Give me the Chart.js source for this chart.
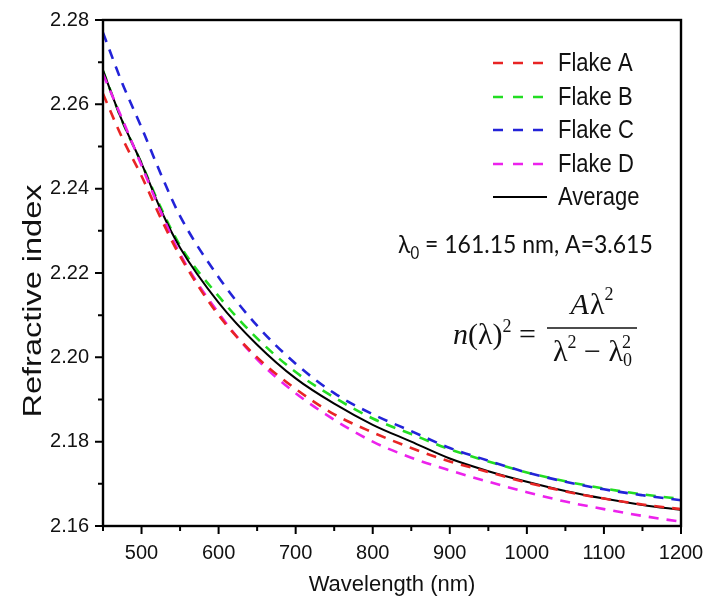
<!DOCTYPE html>
<html>
<head>
<meta charset="utf-8">
<script src="https://cdn.jsdelivr.net/npm/chart.js@4/dist/chart.umd.min.js"></script>
<style>
  html, body { margin: 0; padding: 0; background: #ffffff; }
  #wrap { width: 712px; height: 599px; }
</style>
</head>
<body>
<div id="wrap"><canvas id="c" width="712" height="599"></canvas></div>
<script>
// ---------------- data ----------------
const wavelengths = [450, 475, 500, 525, 550, 600, 650, 700, 750, 800, 850, 900, 950, 1000, 1050, 1100, 1150, 1200];
const flakeA  = [2.2625, 2.2520, 2.2430, 2.2330, 2.2240, 2.2100, 2.2000, 2.1925, 2.1865, 2.1822, 2.1785, 2.1753, 2.1728, 2.1703, 2.1682, 2.1665, 2.1651, 2.1640];
const flakeB  = [2.2680, 2.2560, 2.2460, 2.2355, 2.2265, 2.2145, 2.2045, 2.1965, 2.1905, 2.1855, 2.1818, 2.1782, 2.1753, 2.1727, 2.1706, 2.1689, 2.1675, 2.1664];
const flakeC  = [2.2770, 2.2650, 2.2545, 2.2435, 2.2335, 2.2190, 2.2075, 2.1985, 2.1915, 2.1865, 2.1825, 2.1785, 2.1755, 2.1727, 2.1705, 2.1687, 2.1673, 2.1661];
const flakeD  = [2.2672, 2.2565, 2.2455, 2.2345, 2.2245, 2.2105, 2.1995, 2.1915, 2.1852, 2.1800, 2.1762, 2.1732, 2.1705, 2.1680, 2.1658, 2.1640, 2.1624, 2.1610];
const average = [2.2680, 2.2560, 2.2460, 2.2350, 2.2260, 2.2130, 2.2030, 2.1950, 2.1890, 2.1840, 2.1800, 2.1760, 2.1730, 2.1705, 2.1683, 2.1665, 2.1650, 2.1638];
const seriesNames = ['Flake A', 'Flake B', 'Flake C', 'Flake D', 'Average'];
const xTicks = [500, 600, 700, 800, 900, 1000, 1100, 1200];
const xMinorTicks = [450, 550, 650, 750, 850, 950, 1050, 1150];
const yTicks = [2.16, 2.18, 2.20, 2.22, 2.24, 2.26, 2.28];
const yMinorTicks = [2.17, 2.19, 2.21, 2.23, 2.25, 2.27];
const xTitle = 'Wavelength (nm)';
const yTitle = 'Refractive index';
const paramText = ' = 161.15 nm, A=3.615';

// ---------------- styles ----------------
const colors = ['#e82424', '#22dd22', '#2323d8', '#ec22ec', '#000000'];
const drawOrder = [0, 4, 3, 1, 2];
const seriesValues = [flakeA, flakeB, flakeC, flakeD, average];

const datasets = seriesValues.map((vals, i) => ({
  label: seriesNames[i],
  data: wavelengths.map((w, j) => ({ x: w, y: vals[j] })),
  borderColor: colors[i],
  backgroundColor: colors[i],
  borderWidth: i === 4 ? 2 : 2.6,
  borderDash: i === 4 ? [] : [10, 8],
  pointRadius: 0,
  fill: false,
  cubicInterpolationMode: 'monotone',
  order: drawOrder[i]
}));

const SANS = '"Liberation Sans", Arial, sans-serif';
const SERIF = '"Liberation Serif", "DejaVu Serif", serif';

const noPad = s => { s.paddingTop = 0; s.paddingBottom = 0; s.paddingLeft = 0; s.paddingRight = 0; };

const framePlugin = {
  id: 'frame',
  afterDraw(chart) {
    const { ctx, chartArea: a, scales } = chart;
    const xs = scales.x, ys = scales.y;
    ctx.save();
    ctx.strokeStyle = '#000';
    ctx.lineWidth = 2.4;
    ctx.strokeRect(a.left, a.top, a.right - a.left, a.bottom - a.top);
    ctx.lineWidth = 2;
    ctx.beginPath();
    yTicks.forEach(v => { const y = ys.getPixelForValue(v); ctx.moveTo(a.left - 8, y); ctx.lineTo(a.left, y); });
    yMinorTicks.forEach(v => { const y = ys.getPixelForValue(v); ctx.moveTo(a.left - 5, y); ctx.lineTo(a.left, y); });
    xTicks.forEach(v => { const x = xs.getPixelForValue(v); ctx.moveTo(x, a.bottom); ctx.lineTo(x, a.bottom + 8); });
    xMinorTicks.forEach(v => { const x = xs.getPixelForValue(v); ctx.moveTo(x, a.bottom); ctx.lineTo(x, a.bottom + 5); });
    ctx.stroke();

    // y-axis title (stretched along its length like the reference)
    ctx.save();
    ctx.translate(34, 301);
    ctx.rotate(-Math.PI / 2);
    ctx.scale(1.25, 1);
    ctx.fillStyle = '#111';
    ctx.font = '26px ' + SANS;
    ctx.textAlign = 'center';
    ctx.textBaseline = 'middle';
    ctx.fillText(yTitle, 0, 0);
    ctx.restore();

    // legend
    const rowY = [63, 97, 130, 164, 197];
    chart.data.datasets.forEach((ds, i) => {
      const y = rowY[i];
      ctx.beginPath();
      ctx.strokeStyle = ds.borderColor;
      ctx.lineWidth = i === 4 ? 2 : 2.6;
      ctx.setLineDash(ds.borderDash.length ? [10, 10] : []);
      ctx.moveTo(493, y);
      ctx.lineTo(547, y);
      ctx.stroke();
      ctx.setLineDash([]);
      ctx.save();
      ctx.translate(558, y + 1);
      ctx.scale(1, 1.15);
      ctx.fillStyle = '#111';
      ctx.font = '22px ' + SANS;
      ctx.textAlign = 'left';
      ctx.textBaseline = 'middle';
      ctx.fillText(ds.label, 0, 0);
      ctx.restore();
    });

    // parameters line: λ0 = 161.15 nm, A=3.615
    ctx.fillStyle = '#111';
    ctx.textBaseline = 'alphabetic';
    ctx.textAlign = 'left';
    ctx.save();
    ctx.translate(398, 253);
    ctx.scale(1, 1.1);
    const pf = '23px Lato, "Noto Sans", sans-serif';
    const sf = '15px Lato, "Noto Sans", sans-serif';
    let x = 0;
    ctx.font = pf; ctx.fillText('λ', x, 0); x += ctx.measureText('λ').width;
    ctx.font = sf; ctx.fillText('0', x, 5); x += ctx.measureText('0').width;
    ctx.font = pf; ctx.fillText(paramText, x, 0);
    ctx.restore();

    // formula  n(λ)^2 = Aλ^2 / (λ^2 − λ0^2)
    const it = 'italic 30px ' + SERIF, up = '30px ' + SERIF, sup = '18px ' + SERIF;
    const drawRuns = (runs, startX, base) => {
      let cx = startX;
      runs.forEach(r => { ctx.font = r.f; ctx.fillText(r.t, cx, base + (r.dy || 0)); cx += ctx.measureText(r.t).width + (r.sp || 0); });
      return cx;
    };
    const widthRuns = runs => runs.reduce((s, r) => { ctx.font = r.f; return s + ctx.measureText(r.t).width + (r.sp || 0); }, 0);
    drawRuns([
      { t: 'n', f: it }, { t: '(', f: up }, { t: 'λ', f: up }, { t: ')', f: up },
      { t: '2', f: sup, dy: -12 }, { t: ' = ', f: up }
    ], 453, 344);
    ctx.beginPath();
    ctx.lineWidth = 1.6;
    ctx.strokeStyle = '#111';
    ctx.moveTo(547, 328); ctx.lineTo(637, 328);
    ctx.stroke();
    const num = [{ t: 'A', f: it, sp: 1 }, { t: 'λ', f: up }, { t: '2', f: sup, dy: -14 }];
    drawRuns(num, 592 - widthRuns(num) / 2, 314);
    const den = [{ t: 'λ', f: up }, { t: '2', f: sup, dy: -13 }, { t: ' − ', f: up }, { t: 'λ', f: up },
                 { t: '0', f: sup, dy: 5, sp: -10 }, { t: '2', f: sup, dy: -13 }];
    drawRuns(den, 592 - widthRuns(den) / 2, 361);
    ctx.restore();
  }
};

new Chart(document.getElementById('c'), {
  type: 'line',
  data: { datasets },
  plugins: [framePlugin],
  options: {
    responsive: false,
    devicePixelRatio: 1,
    animation: false,
    layout: { padding: { left: 0, right: 31, top: 20, bottom: 0 } },
    plugins: { legend: { display: false }, tooltip: { enabled: false } },
    scales: {
      x: {
        type: 'linear',
        min: 450, max: 1200,
        afterBuildTicks: s => { s.ticks = xTicks.map(v => ({ value: v })); },
        afterFit: s => { s.height = 73; noPad(s); },
        grid: { display: false, drawTicks: false },
        border: { display: false },
        ticks: { color: '#111', font: { family: SANS, size: 20 }, padding: 15, maxRotation: 0, autoSkip: false,
                 callback: v => String(v) },
        title: { display: true, text: xTitle, color: '#111', font: { family: SANS, size: 22 }, padding: { top: 0, bottom: 1 } }
      },
      y: {
        type: 'linear',
        min: 2.16, max: 2.28,
        afterBuildTicks: s => { s.ticks = yTicks.map(v => ({ value: v })); },
        afterFit: s => { s.width = 103; noPad(s); },
        grid: { display: false, drawTicks: false },
        border: { display: false },
        ticks: { color: '#111', font: { family: SANS, size: 20 }, padding: 14, autoSkip: false,
                 callback: v => Number(v).toFixed(2) }
      }
    }
  }
});
</script>
</body>
</html>
